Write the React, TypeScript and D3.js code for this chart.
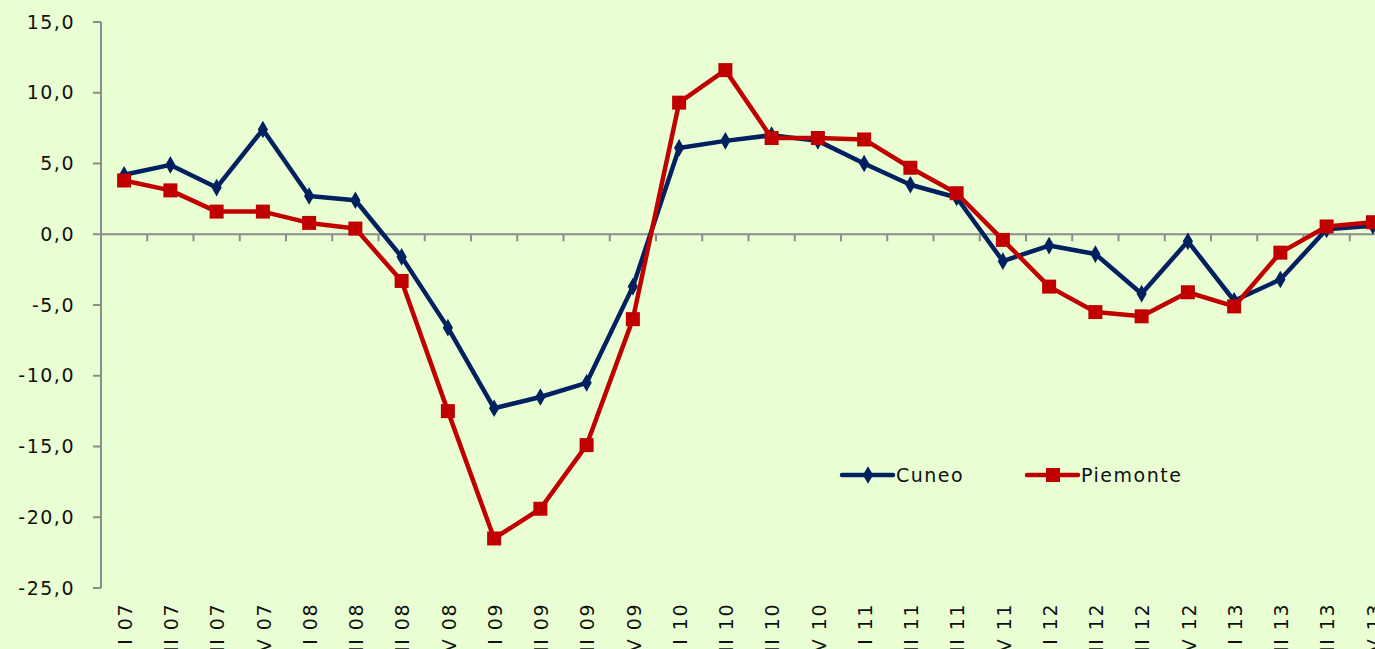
import { useEffect } from "react";
import * as d3 from "d3";

const categories = [
  "I 07", "II 07", "III 07", "IV 07",
  "I 08", "II 08", "III 08", "IV 08",
  "I 09", "II 09", "III 09", "IV 09",
  "I 10", "II 10", "III 10", "IV 10",
  "I 11", "II 11", "III 11", "IV 11",
  "I 12", "II 12", "III 12", "IV 12",
  "I 13", "II 13", "III 13", "IV 13",
];

const cuneo = [
  4.2, 4.9, 3.3, 7.4,
  2.7, 2.4, -1.6, -6.6,
  -12.3, -11.5, -10.5, -3.7,
  6.1, 6.6, 7.0, 6.6,
  5.0, 3.5, 2.6, -1.9,
  -0.8, -1.4, -4.2, -0.5,
  -4.7, -3.2, 0.35, 0.6,
];

const piemonte = [
  3.8, 3.1, 1.6, 1.6,
  0.8, 0.4, -3.3, -12.5,
  -21.5, -19.4, -14.9, -6.0,
  9.3, 11.6, 6.8, 6.8,
  6.7, 4.7, 2.9, -0.4,
  -3.7, -5.5, -5.8, -4.1,
  -5.1, -1.3, 0.55, 0.85,
];

const yTicks = [15, 10, 5, 0, -5, -10, -15, -20, -25];

const W = 1375;
const H = 649;
const BG = "#E9FFD3";
const NAVY = "#002060";
const RED = "#C00000";
const AXIS = "#8C8C8C";
const FONT = "'DejaVu Sans', Verdana, sans-serif";

export default function App() {
  useEffect(() => {
    document.body.style.margin = "0";
    document.body.style.background = BG;
  }, []);

  const left = 101;
  const x = d3.scaleBand<string>().domain(categories).range([left, left + 28 * 46.25]);
  const y = d3.scaleLinear().domain([-25, 15]).range([588, 22]);
  const cx = (i: number) => x(categories[i])! + x.bandwidth() / 2;

  const line = d3
    .line<number>()
    .x((_, i) => cx(i))
    .y((d) => y(d));

  const fmt = (v: number) => v.toFixed(1).replace(".", ",");
  const diamond = d3.symbol(d3.symbolDiamond, 90)();
  const y0 = y(0);

  const bounds = categories.map((c) => x(c)!).concat([left + 28 * 46.25]);

  return (
    <svg width={W} height={H} style={{ display: "block", background: BG }} fontFamily={FONT}>
      <rect x={0} y={0} width={W} height={H} fill={BG} />
      {/* y axis */}
      <line x1={left} x2={left} y1={y(15)} y2={y(-25)} stroke={AXIS} strokeWidth={2} />
      {yTicks.map((t) => (
        <g key={t}>
          <line x1={left - 8} x2={left} y1={y(t)} y2={y(t)} stroke={AXIS} strokeWidth={2} />
          <text
            x={75}
            y={y(t)}
            dy="0.35em"
            textAnchor="end"
            fontSize={19}
            letterSpacing={1.5}
            fill="#111"
          >
            {fmt(t)}
          </text>
        </g>
      ))}
      {/* x axis at zero */}
      <line x1={left} x2={W} y1={y0} y2={y0} stroke={AXIS} strokeWidth={2} />
      {bounds.map((b, i) => (
        <line key={i} x1={b} x2={b} y1={y0} y2={y0 + 7} stroke={AXIS} strokeWidth={2} />
      ))}
      {categories.map((c, i) => (
        <text
          key={c}
          transform={`translate(${cx(i) + 1},603) rotate(-90)`}
          dy="0.35em"
          textAnchor="end"
          fontSize={19}
          letterSpacing={1.5}
          fill="#111"
        >
          {c}
        </text>
      ))}
      {/* series */}
      <path d={line(cuneo)!} fill="none" stroke={NAVY} strokeWidth={4.5} strokeLinejoin="round" />
      {cuneo.map((v, i) => (
        <path key={i} d={diamond} transform={`translate(${cx(i)},${y(v)})`} fill={NAVY} />
      ))}
      <path d={line(piemonte)!} fill="none" stroke={RED} strokeWidth={4.5} strokeLinejoin="round" />
      {piemonte.map((v, i) => (
        <rect key={i} x={cx(i) - 7} y={y(v) - 7} width={14} height={14} fill={RED} />
      ))}
      {/* legend */}
      <g transform="translate(842,475)">
        <line x1={0} x2={51} y1={0} y2={0} stroke={NAVY} strokeWidth={4.5} strokeLinecap="round" />
        <path d={diamond} transform="translate(26,0)" fill={NAVY} />
        <text x={54} y={0} dy="0.35em" fontSize={19} letterSpacing={1.5} fill="#111">
          Cuneo
        </text>
      </g>
      <g transform="translate(1027,475)">
        <line x1={0} x2={51} y1={0} y2={0} stroke={RED} strokeWidth={4.5} strokeLinecap="round" />
        <rect x={19} y={-7} width={14} height={14} fill={RED} />
        <text x={54} y={0} dy="0.35em" fontSize={19} letterSpacing={1.5} fill="#111">
          Piemonte
        </text>
      </g>
    </svg>
  );
}
